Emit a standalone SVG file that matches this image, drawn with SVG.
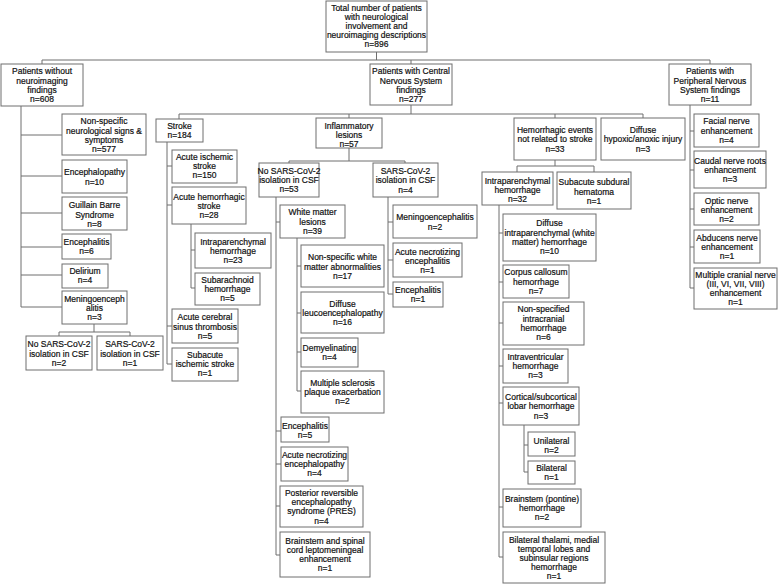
<svg xmlns="http://www.w3.org/2000/svg" width="778" height="584" viewBox="0 0 778 584">
<style>
rect{fill:#fff;stroke:#6e6e6e;stroke-width:1}
text{font-family:"Liberation Sans",Arial,sans-serif;font-size:8.5px;fill:#111;stroke:#111;stroke-width:0.2;text-anchor:middle}
#connectors path{fill:none;stroke:#6e6e6e;stroke-width:1}
</style>
<rect x="0" y="0" width="778" height="584" style="stroke:none"/>
<g id="connectors">
<path d="M376.5,52V60M42,60H710M42,60V64M411,60V64M710,60V64"/>
<path d="M21,106V307M21,135H62M21,176H62M21,213H62M21,247H62M21,275H62M21,307H62"/>
<path d="M94,324V332M59,332H130M59,332V336M130,332V336"/>
<path d="M690,105V288M690,131H694M690,170H694M690,209H694M690,247H694M690,288H694"/>
<path d="M411,105V114M179,114H643M179,114V119M349,114V118M555,114V118M643,114V118"/>
<path d="M167,142V364M167,166H172M167,205H172M167,326H172M167,364H172"/>
<path d="M191,224V288M191,250H195M191,288H195"/>
<path d="M349,148V161M289,161H405M289,161V163M405,161V163"/>
<path d="M276,197V555M276,222H280M276,431H281M276,464H281M276,506H280M276,555H280"/>
<path d="M297,238V391M297,266H301M297,313H301M297,352H301M297,391H301"/>
<path d="M388,197V294M388,222H393M388,260H393M388,294H393"/>
<path d="M555,160V166M517,166H594M517,166V172M594,166V172"/>
<path d="M499,205V557M499,233H503M499,282H503M499,323H503M499,366H503M499,403H503M499,507H503M499,557H503"/>
<path d="M524,425V472M524,445H528M524,472H528"/>
</g>
<g id="n0"><rect x="326" y="1" width="101" height="51"/><text x="376.5" y="10.5">Total number of patients</text><text x="376.5" y="19.5">with neurological</text><text x="376.5" y="28.5">involvement and</text><text x="376.5" y="37.5">neuroimaging descriptions</text><text x="376.5" y="46.5">n=896</text></g>
<g id="n1"><rect x="1" y="64" width="82" height="42"/><text x="42" y="74">Patients without</text><text x="42" y="83.5">neuroimaging</text><text x="42" y="93">findings</text><text x="42" y="102">n=608</text></g>
<g id="n2"><rect x="370" y="64" width="82" height="41"/><text x="411" y="74">Patients with Central</text><text x="411" y="83.5">Nervous System</text><text x="411" y="93">findings</text><text x="411" y="102">n=277</text></g>
<g id="n3"><rect x="669" y="64" width="82" height="41"/><text x="710" y="74">Patients with</text><text x="710" y="83.5">Peripheral Nervous</text><text x="710" y="93">System findings</text><text x="710" y="102">n=11</text></g>
<g id="n1a"><rect x="62" y="114" width="84" height="41"/><text x="104" y="124">Non-specific</text><text x="104" y="133.5">neurological signs &amp;</text><text x="104" y="143">symptoms</text><text x="104" y="152">n=577</text></g>
<g id="n1b"><rect x="62" y="160" width="65" height="33"/><text x="94.5" y="175">Encephalopathy</text><text x="94.5" y="185">n=10</text></g>
<g id="n1c"><rect x="62" y="197" width="65" height="33"/><text x="94.5" y="208">Guillain Barre</text><text x="94.5" y="217.5">Syndrome</text><text x="94.5" y="226.5">n=8</text></g>
<g id="n1d"><rect x="62" y="234" width="49" height="25"/><text x="86.5" y="245">Encephalitis</text><text x="86.5" y="254">n=6</text></g>
<g id="n1e"><rect x="62" y="264" width="46" height="24"/><text x="85" y="274">Delirium</text><text x="85" y="283">n=4</text></g>
<g id="n1f"><rect x="62" y="291" width="65" height="33"/><text x="94.5" y="302">Meningoenceph</text><text x="94.5" y="311">alitis</text><text x="94.5" y="320">n=3</text></g>
<g id="n1g"><rect x="26" y="336" width="66" height="34"/><text x="59" y="347">No SARS-CoV-2</text><text x="59" y="356.5">isolation in CSF</text><text x="59" y="366">n=2</text></g>
<g id="n1h"><rect x="97" y="336" width="66" height="34"/><text x="130" y="347">SARS-CoV-2</text><text x="130" y="356.5">isolation in CSF</text><text x="130" y="366">n=1</text></g>
<g id="n3a"><rect x="694" y="114" width="65" height="33"/><text x="726.5" y="124">Facial nerve</text><text x="726.5" y="133.5">enhancement</text><text x="726.5" y="143">n=4</text></g>
<g id="n3b"><rect x="694" y="151" width="72" height="37"/><text x="730" y="164">Caudal nerve roots</text><text x="730" y="173">enhancement</text><text x="730" y="182">n=3</text></g>
<g id="n3c"><rect x="694" y="193" width="65" height="32"/><text x="726.5" y="204">Optic nerve</text><text x="726.5" y="213">enhancement</text><text x="726.5" y="222">n=2</text></g>
<g id="n3d"><rect x="694" y="230" width="66" height="33"/><text x="727" y="241">Abducens nerve</text><text x="727" y="250">enhancement</text><text x="727" y="259">n=1</text></g>
<g id="n3e"><rect x="694" y="268" width="83" height="41"/><text x="735.5" y="278">Multiple cranial nerve</text><text x="735.5" y="287">(III, VI, VII, VIII)</text><text x="735.5" y="296">enhancement</text><text x="735.5" y="305">n=1</text></g>
<g id="stroke"><rect x="156" y="119" width="47" height="23"/><text x="179.5" y="129">Stroke</text><text x="179.5" y="138">n=184</text></g>
<g id="infl"><rect x="316" y="118" width="66" height="30"/><text x="349" y="129">Inflammatory</text><text x="349" y="138">lesions</text><text x="349" y="147">n=57</text></g>
<g id="hemo"><rect x="514" y="118" width="82" height="42"/><text x="555" y="133">Hemorrhagic events</text><text x="555" y="142">not related to stroke</text><text x="555" y="152">n=33</text></g>
<g id="diffuse"><rect x="601" y="118" width="84" height="42"/><text x="643" y="133">Diffuse</text><text x="643" y="142">hypoxic/anoxic injury</text><text x="643" y="152">n=3</text></g>
<g id="s1"><rect x="172" y="150" width="65" height="33"/><text x="204.5" y="160">Acute ischemic</text><text x="204.5" y="169">stroke</text><text x="204.5" y="178">n=150</text></g>
<g id="s2"><rect x="172" y="187" width="74" height="37"/><text x="209" y="200">Acute hemorrhagic</text><text x="209" y="209">stroke</text><text x="209" y="218">n=28</text></g>
<g id="s2a"><rect x="195" y="233" width="76" height="35"/><text x="233" y="245">Intraparenchymal</text><text x="233" y="254">hemorrhage</text><text x="233" y="263">n=23</text></g>
<g id="s2b"><rect x="195" y="273" width="65" height="32"/><text x="227.5" y="283">Subarachnoid</text><text x="227.5" y="292">hemorrhage</text><text x="227.5" y="301">n=5</text></g>
<g id="s3"><rect x="172" y="309" width="66" height="34"/><text x="205" y="320">Acute cerebral</text><text x="205" y="330">sinus thrombosis</text><text x="205" y="339">n=5</text></g>
<g id="s4"><rect x="172" y="348" width="66" height="33"/><text x="205" y="358">Subacute</text><text x="205" y="367">ischemic stroke</text><text x="205" y="376">n=1</text></g>
<g id="i1"><rect x="259" y="163" width="60" height="34"/><text x="289" y="174">No SARS-CoV-2</text><text x="289" y="183">isolation in CSF</text><text x="289" y="192">n=53</text></g>
<g id="i2"><rect x="373" y="163" width="65" height="34"/><text x="405.5" y="174">SARS-CoV-2</text><text x="405.5" y="183">isolation in CSF</text><text x="405.5" y="193">n=4</text></g>
<g id="w"><rect x="280" y="205" width="65" height="33"/><text x="312.5" y="215">White matter</text><text x="312.5" y="225">lesions</text><text x="312.5" y="234">n=39</text></g>
<g id="w1"><rect x="301" y="245" width="83" height="42"/><text x="342.5" y="260">Non-specific white</text><text x="342.5" y="270">matter abnormalities</text><text x="342.5" y="279">n=17</text></g>
<g id="w2"><rect x="301" y="292" width="83" height="41"/><text x="342.5" y="307">Diffuse</text><text x="342.5" y="316">leucoencephalopathy</text><text x="342.5" y="325">n=16</text></g>
<g id="w3"><rect x="301" y="338" width="57" height="29"/><text x="329.5" y="351">Demyelinating</text><text x="329.5" y="360">n=4</text></g>
<g id="w4"><rect x="301" y="371" width="83" height="42"/><text x="342.5" y="386">Multiple sclerosis</text><text x="342.5" y="395">plaque exacerbation</text><text x="342.5" y="404">n=2</text></g>
<g id="i1b"><rect x="281" y="417" width="48" height="25"/><text x="305" y="429">Encephalitis</text><text x="305" y="438">n=5</text></g>
<g id="i1c"><rect x="281" y="447" width="67" height="34"/><text x="314.5" y="458">Acute necrotizing</text><text x="314.5" y="467">encephalopathy</text><text x="314.5" y="476">n=4</text></g>
<g id="i1d"><rect x="280" y="486" width="83" height="41"/><text x="321.5" y="496">Posterior reversible</text><text x="321.5" y="505">encephalopathy</text><text x="321.5" y="514">syndrome (PRES)</text><text x="321.5" y="524">n=4</text></g>
<g id="i1e"><rect x="280" y="532" width="90" height="45"/><text x="325" y="544">Brainstem and spinal</text><text x="325" y="553">cord leptomeningeal</text><text x="325" y="562">enhancement</text><text x="325" y="571">n=1</text></g>
<g id="j1"><rect x="393" y="205" width="84" height="33"/><text x="435" y="220">Meningoencephalitis</text><text x="435" y="230">n=2</text></g>
<g id="j2"><rect x="393" y="243" width="69" height="34"/><text x="427.5" y="255">Acute necrotizing</text><text x="427.5" y="264">encephalitis</text><text x="427.5" y="273">n=1</text></g>
<g id="j3"><rect x="393" y="282" width="50" height="25"/><text x="418" y="293">Encephalitis</text><text x="418" y="302">n=1</text></g>
<g id="h1"><rect x="482" y="172" width="71" height="33"/><text x="517.5" y="184">Intraparenchymal</text><text x="517.5" y="193">hemorrhage</text><text x="517.5" y="202">n=32</text></g>
<g id="h2"><rect x="557" y="172" width="74" height="37"/><text x="594" y="185">Subacute subdural</text><text x="594" y="195">hematoma</text><text x="594" y="204">n=1</text></g>
<g id="k1"><rect x="503" y="214" width="93" height="47"/><text x="549.5" y="226">Diffuse</text><text x="549.5" y="236">intraparenchymal (white</text><text x="549.5" y="245">matter) hemorrhage</text><text x="549.5" y="254">n=10</text></g>
<g id="k2"><rect x="503" y="265" width="66" height="33"/><text x="536" y="275">Corpus callosum</text><text x="536" y="285">hemorrhage</text><text x="536" y="294">n=7</text></g>
<g id="k3"><rect x="503" y="302" width="81" height="43"/><text x="543.5" y="312">Non-specified</text><text x="543.5" y="322">intracranial</text><text x="543.5" y="331">hemorrhage</text><text x="543.5" y="340">n=6</text></g>
<g id="k4"><rect x="503" y="349" width="65" height="34"/><text x="535.5" y="360">Intraventricular</text><text x="535.5" y="369">hemorrhage</text><text x="535.5" y="378">n=3</text></g>
<g id="k5"><rect x="503" y="387" width="76" height="38"/><text x="541" y="400">Cortical/subcortical</text><text x="541" y="409">lobar hemorrhage</text><text x="541" y="419">n=3</text></g>
<g id="k5a"><rect x="528" y="432" width="47" height="24"/><text x="551.5" y="444">Unilateral</text><text x="551.5" y="453">n=2</text></g>
<g id="k5b"><rect x="528" y="461" width="47" height="23"/><text x="551.5" y="471">Bilateral</text><text x="551.5" y="480">n=1</text></g>
<g id="k6"><rect x="503" y="489" width="78" height="38"/><text x="542" y="502">Brainstem (pontine)</text><text x="542" y="511">hemorrhage</text><text x="542" y="520">n=2</text></g>
<g id="k7"><rect x="503" y="532" width="102" height="51"/><text x="554" y="543">Bilateral thalami, medial</text><text x="554" y="552">temporal lobes and</text><text x="554" y="561">subinsular regions</text><text x="554" y="570">hemorrhage</text><text x="554" y="579">n=1</text></g>
</svg>
